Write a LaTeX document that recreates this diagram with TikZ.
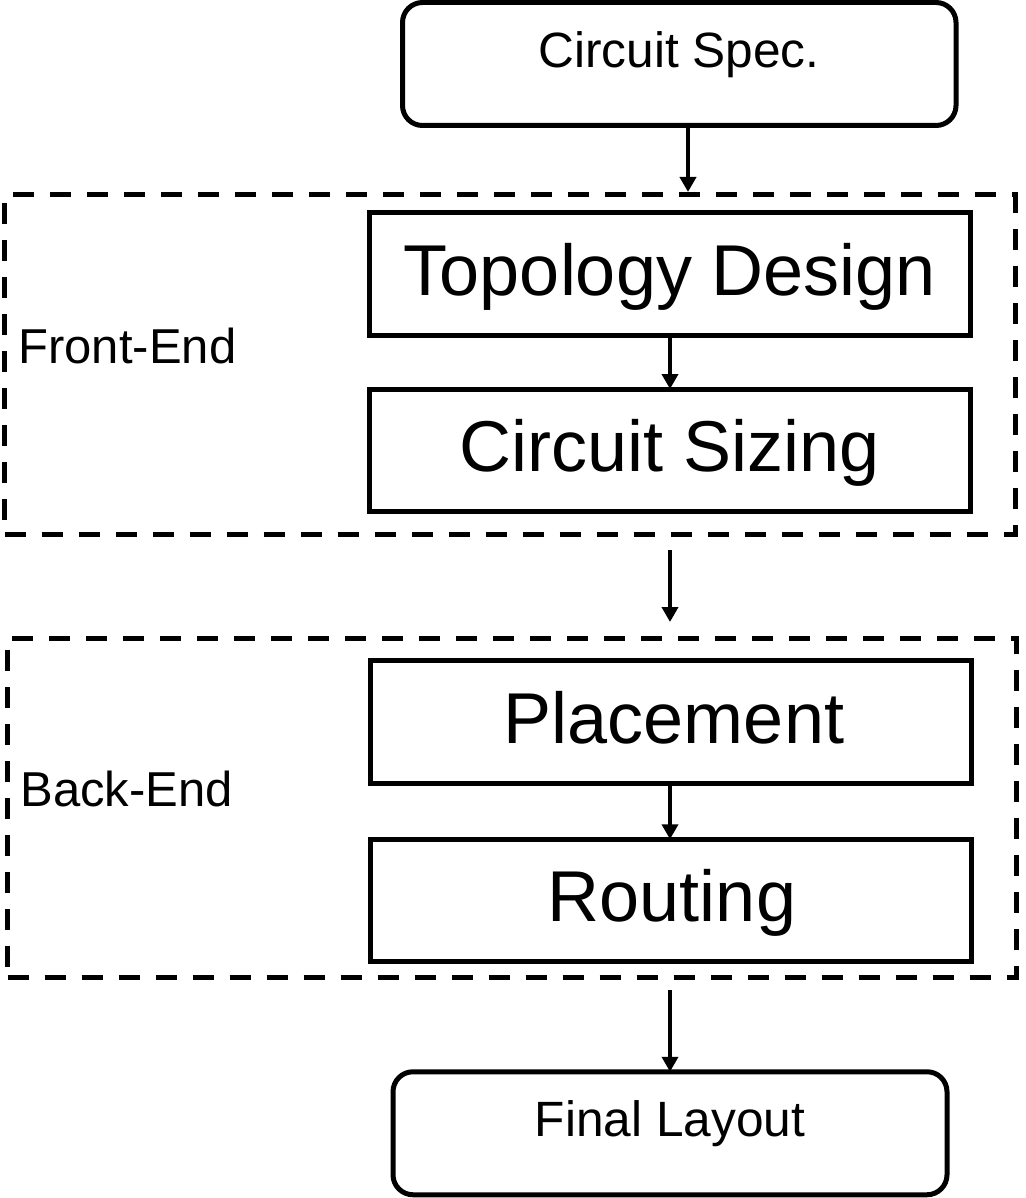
\documentclass[tikz,border=0pt]{standalone}
\usepackage{fontspec}
\setmainfont{Liberation Sans}
\usetikzlibrary{arrows.meta}

\tikzset{
  stagebox/.style={draw, line width=2.5pt, inner sep=0pt, outer sep=0pt,
                   minimum width=300.5pt, minimum height=61.25pt},
  iobox/.style={draw, line width=2.5pt, rounded corners=10pt, inner sep=0pt,
                outer sep=0pt, minimum width=277pt, minimum height=61.5pt},
  groupbox/.style={draw, line width=2.5pt, dash pattern=on 10.5pt off 8pt,
                   inner sep=0pt, outer sep=0pt},
  bigtext/.style={font=\fontsize{36}{43}\selectfont, anchor=base, inner sep=0pt},
  smalltext/.style={font=\fontsize{24.8}{30}\selectfont, anchor=base, inner sep=0pt},
  sidetext/.style={font=\fontsize{24.5}{30}\selectfont, anchor=base west, inner sep=0pt},
  flow/.style={line width=2pt, -{Triangle[length=7.5pt,width=8pt]}},
}

\begin{document}
\begin{tikzpicture}[x=0.5pt,y=-0.5pt]
  \useasboundingbox (0,0) rectangle (1025,1198);

  % dashed groups
  \node[groupbox, minimum width=505.25pt, minimum height=169.5pt] (front) at (509.75,364.5) {};
  \node[groupbox, minimum width=504.25pt, minimum height=169.5pt] (back) at (511.75,807.5) {};
  \node[sidetext] (frontlbl) at (18,363) {Front-End};
  \node[sidetext] (backlbl) at (20,806) {Back-End};

  % start and end
  \node[iobox, minimum width=276.75pt] (spec) at (679.25,64) {};
  \node[smalltext] (spectxt) at (679,68) {Circuit Spec.};
  \node[iobox] (final) at (670,1133.25) {};
  \node[smalltext] (finaltxt) at (670,1136) {Final Layout};

  % stages
  \node[stagebox] (topo)  at (670.25,273.75) {};
  \node[bigtext] (topotxt) at (670,295) {Topology Design};
  \node[stagebox] (sizing) at (670.25,450.25) {};
  \node[bigtext] (sizingtxt) at (670,471.5) {Circuit Sizing};
  \node[stagebox] (place) at (670.75,721.75) {};
  \node[bigtext] (placetxt) at (674,743) {Placement};
  \node[stagebox] (route) at (670.75,900.5) {};
  \node[bigtext] (routetxt) at (672,921.5) {Routing};

  % connector end points
  \coordinate (frontin) at (688,192);
  \coordinate (frontout) at (670,550);
  \coordinate (backin) at (670,622);
  \coordinate (backout) at (670,990);

  % connectors
  \draw[flow] (spec.south -| frontin) -- (frontin);
  \draw[flow] (topo.south -| frontout) -- (sizing.north -| frontout);
  \draw[flow] (frontout) -- (backin);
  \draw[flow] (place.south -| backout) -- (route.north -| backout);
  \draw[flow] (backout) -- (final.north -| backout);
\end{tikzpicture}
\end{document}
